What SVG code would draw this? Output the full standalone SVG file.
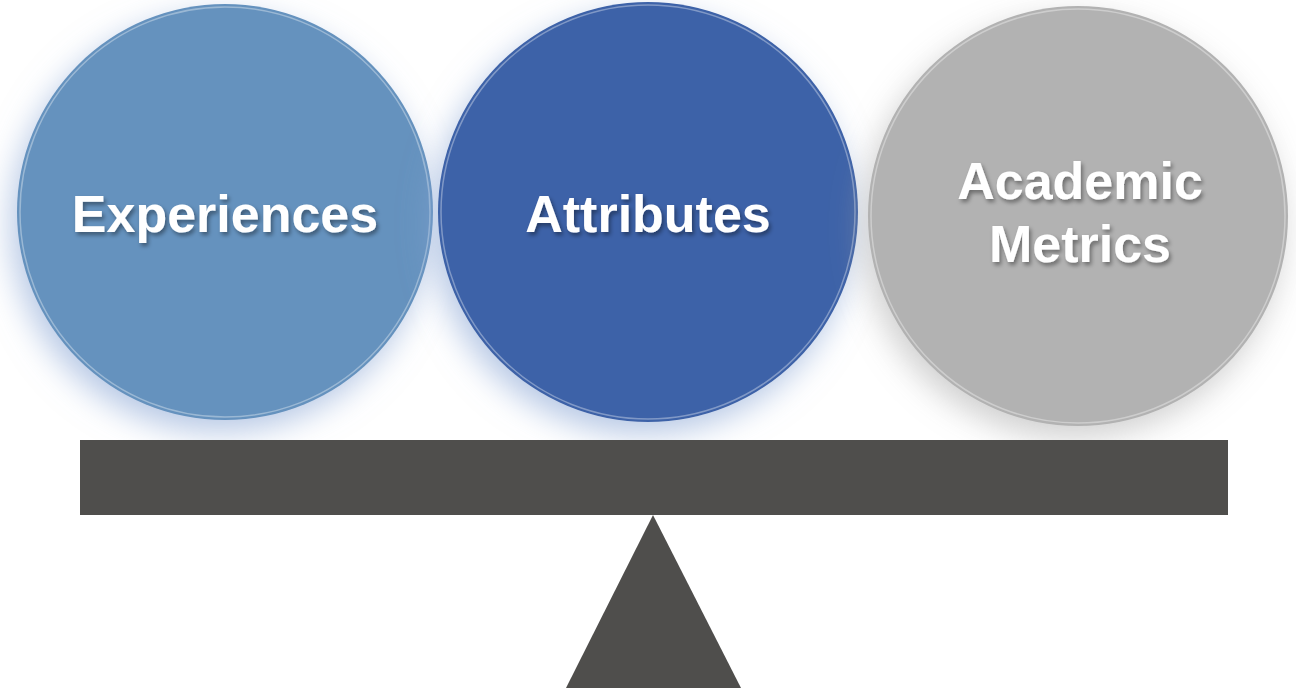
<svg xmlns="http://www.w3.org/2000/svg" width="1296" height="690" viewBox="0 0 1296 690">
  <defs>
    <filter id="glowBlue" x="-30%" y="-30%" width="160%" height="160%">
      <feGaussianBlur in="SourceAlpha" stdDeviation="16"/>
      <feOffset dx="-6" dy="12" result="b"/>
      <feFlood flood-color="#86a3d3" flood-opacity="0.6"/>
      <feComposite in2="b" operator="in"/>
      <feMerge><feMergeNode/><feMergeNode in="SourceGraphic"/></feMerge>
    </filter>
    <filter id="glowGray" x="-30%" y="-30%" width="160%" height="160%">
      <feGaussianBlur in="SourceAlpha" stdDeviation="16"/>
      <feOffset dx="-6" dy="12" result="b"/>
      <feFlood flood-color="#a0a0a0" flood-opacity="0.5"/>
      <feComposite in2="b" operator="in"/>
      <feMerge><feMergeNode/><feMergeNode in="SourceGraphic"/></feMerge>
    </filter>
    <filter id="txtShadow" x="-10%" y="-20%" width="120%" height="150%">
      <feGaussianBlur in="SourceAlpha" stdDeviation="2"/>
      <feOffset dx="1.5" dy="2.5" result="b"/>
      <feFlood flood-color="#000" flood-opacity="0.4"/>
      <feComposite in2="b" operator="in"/>
      <feMerge><feMergeNode/><feMergeNode in="SourceGraphic"/></feMerge>
    </filter>
  </defs>
  <style>
    .lbl { font-family: "Liberation Sans", Arial, sans-serif; font-weight: bold; font-size: 52px; fill: #ffffff; text-anchor: middle; }
    .rim { fill: none; stroke: #ffffff; stroke-opacity: 0.35; stroke-width: 1.5; }
    .base { fill: #4f4e4c; }
  </style>
  <rect width="1296" height="690" fill="#ffffff"/>
  <g id="node-experiences">
    <circle cx="225" cy="212" r="208" fill="#6592be" filter="url(#glowBlue)"/>
    <circle class="rim" cx="225" cy="212" r="205"/>
    <text class="lbl" x="225" y="232" filter="url(#txtShadow)">Experiences</text>
  </g>
  <g id="node-attributes">
    <circle cx="648" cy="212" r="210" fill="#3d62a8" filter="url(#glowBlue)"/>
    <circle class="rim" cx="648" cy="212" r="207"/>
    <text class="lbl" x="648" y="232" filter="url(#txtShadow)">Attributes</text>
  </g>
  <g id="node-academic">
    <circle cx="1078" cy="216" r="210" fill="#b2b2b2" filter="url(#glowGray)"/>
    <circle class="rim" cx="1078" cy="216" r="207"/>
    <text class="lbl" x="1080" y="199" filter="url(#txtShadow)">Academic</text>
    <text class="lbl" x="1080" y="262" filter="url(#txtShadow)">Metrics</text>
  </g>
  <g id="scale">
    <rect class="base" x="80" y="440" width="1148" height="75"/>
    <polygon class="base" points="653,515 741,688 566,688"/>
  </g>
  <g id="connectors"></g>
</svg>
